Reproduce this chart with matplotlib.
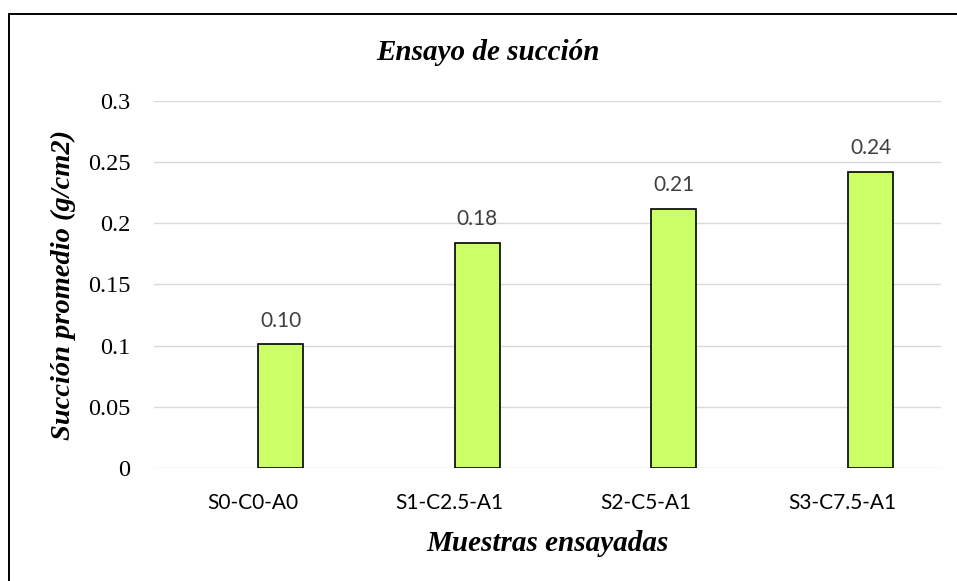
import numpy as np
import matplotlib
matplotlib.use("Agg")
import matplotlib.pyplot as plt
from matplotlib.lines import Line2D


categories = ["S0-C0-A0", "S1-C2.5-A1", "S2-C5-A1", "S3-C7.5-A1"]
succion = [0.101, 0.184, 0.212, 0.242]
value_labels = ["0.10", "0.18", "0.21", "0.24"]
yticks = [0, 0.05, 0.1, 0.15, 0.2, 0.25, 0.3]
ytick_labels = ["0", "0.05", "0.1", "0.15", "0.2", "0.25", "0.3"]

serif = "Liberation Serif"
sans = "Lato"

fig = plt.figure(figsize=(9.57, 5.81), dpi=100)
ax = fig.add_axes([0.161, 0.1945, 0.822, 0.6317])

x = np.arange(len(categories))
bars = ax.bar(x + 0.143, succion, width=0.228, color="#CCFF66",
              edgecolor="black", linewidth=1.2, zorder=3)

# data labels above each bar
ax.bar_label(bars, labels=value_labels, padding=10, color="#404040",
             fontsize=15, family=sans)

ax.set_xlim(-0.5, len(categories) - 0.5)
ax.set_ylim(0, 0.3)
ax.set_yticks(yticks)
ax.set_yticklabels(ytick_labels, family=serif, fontsize=17.5)
ax.set_xticks(x)
ax.set_xticklabels(categories, family=sans, fontsize=15)
ax.tick_params(axis="both", length=0)
ax.tick_params(axis="y", pad=17)
ax.tick_params(axis="x", pad=18)

ax.grid(axis="y", color="#D9D9D9", linewidth=1.0, zorder=0)
for side in ["top", "right", "left", "bottom"]:
    ax.spines[side].set_visible(False)

ax.set_ylabel("Succión promedio (g/cm2)", family=serif, fontsize=20.5,
              fontweight="bold", style="italic")
ax.yaxis.set_label_coords(-0.099, 0.5)
ax.set_xlabel("Muestras ensayadas", family=serif, fontsize=21,
              fontweight="bold", style="italic")
ax.xaxis.set_label_coords(0.5, -0.17)

fig.text(488 / 957, 1 - 53 / 581, "Ensayo de succión", family=serif,
         fontsize=21, fontweight="bold", style="italic",
         ha="center", va="center")

# chart-area border (only left and top are visible in the crop)
fig.add_artist(Line2D([9 / 957, 9 / 957], [0, 1 - 14 / 581],
                      color="black", linewidth=1.4))
fig.add_artist(Line2D([9 / 957, 1], [1 - 14 / 581, 1 - 14 / 581],
                      color="black", linewidth=1.4))

fig.savefig("out.png", dpi=100)
